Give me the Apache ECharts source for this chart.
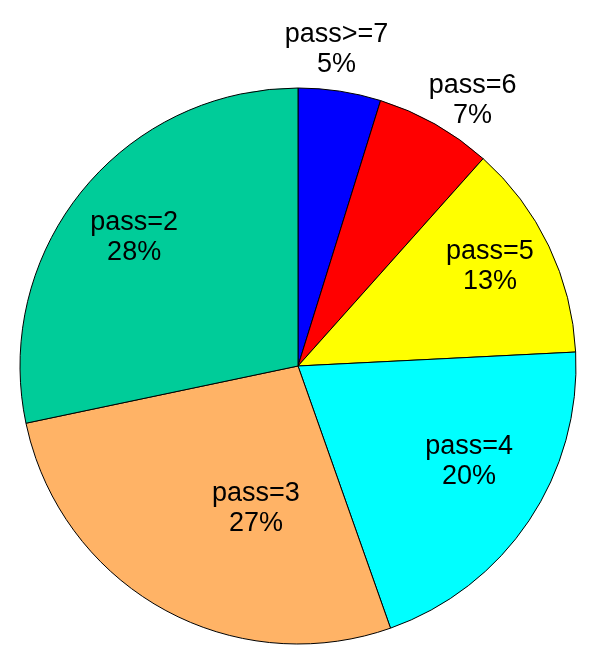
<!DOCTYPE html>
<html>
<head>
<meta charset="utf-8">
<script src="https://cdn.jsdelivr.net/npm/echarts@6/dist/echarts.min.js"></script>
<style>
html,body{margin:0;padding:0;background:#fff;}
#c{width:600px;height:658px;}
</style>
</head>
<body>
<div id="c"></div>
<script>
// Data
var categories = ['pass>=7', 'pass=6', 'pass=5', 'pass=4', 'pass=3', 'pass=2'];
var values = [4.8, 6.8, 12.6, 20.4, 27.1, 28.3];
var colors = ['#0000FF', '#FF0000', '#FFFF00', '#00FFFF', '#FFB366', '#00CC99'];

// Label placement (angle clockwise from top in degrees, distance as fraction of radius)
var labelAngles = [6.95, 33.3, 62.7, 119.2, 196.5, 308];
var labelRadii = [1.145, 1.144, 0.777, 0.705, 0.533, 0.748];

var CX = 298, CY = 366, R = 278;

var chart = echarts.init(document.getElementById('c'), null, {renderer: 'canvas'});
var data = categories.map(function (c, i) {
  return {name: c, value: values[i], itemStyle: {color: colors[i]}};
});
chart.setOption({
  animation: false,
  backgroundColor: '#ffffff',
  series: [{
    type: 'pie',
    center: [CX, CY],
    radius: R,
    startAngle: 90,
    clockwise: true,
    avoidLabelOverlap: false,
    minAngle: 0,
    data: data,
    itemStyle: {borderColor: '#000000', borderWidth: 1},
    emphasis: {disabled: true},
    label: {
      show: true,
      position: 'inside',
      color: '#000000',
      fontFamily: 'Liberation Sans, Arial, sans-serif',
      fontSize: 27,
      lineHeight: 30,
      align: 'center',
      formatter: function (p) {
        return p.name + '\n' + Math.round(p.percent) + '%';
      }
    },
    labelLine: {show: false},
    labelLayout: function (p) {
      var i = p.dataIndex;
      var a = labelAngles[i] * Math.PI / 180;
      var r = R * labelRadii[i];
      return {
        x: CX + r * Math.sin(a),
        y: CY - r * Math.cos(a),
        align: 'center',
        verticalAlign: 'middle'
      };
    }
  }]
});
</script>
</body>
</html>
